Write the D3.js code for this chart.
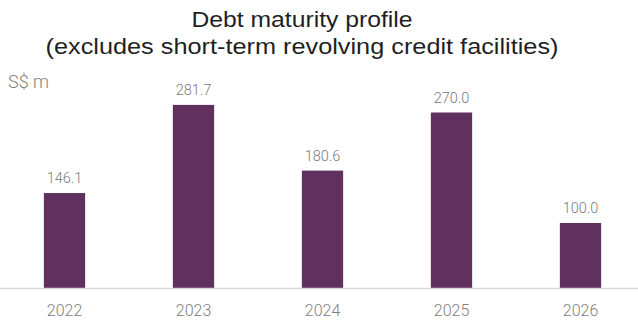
<!DOCTYPE html>
<html>
<head>
<meta charset="utf-8">
<script src="https://cdn.jsdelivr.net/npm/d3@7"></script>
<style>
  body { margin: 0; background: #fff; }
  svg { display: block; font-family: Roboto, "Liberation Sans", sans-serif; }
</style>
</head>
<body>
<div class="chart--container"></div>
<script>
let years = ['2022', '2023', '2024', '2025', '2026'],
    amounts = [146.1, 281.7, 180.6, 270.0, 100.0],
    titleLines = ['Debt maturity profile', '(excludes short-term revolving credit facilities)'],
    unitLabel = 'S$ m';

let W = 638, H = 321,
    baseY = 288,
    svg = d3.select('.chart--container')
            .append('svg')
            .attr('width', W)
            .attr('height', H);

// scales
let scale_x = d3.scaleBand()
                .domain(years)
                .range([0, 645])
                .paddingInner(0.68)
                .paddingOuter(0.34);

let scale_y = d3.scaleLinear()
                .domain([0, 300])
                .range([baseY, 93]);

// title, two lines
svg.selectAll('.title')
    .data(titleLines)
    .enter()
    .append('text')
    .attr('class', 'title')
    .attr('x', 302)
    .attr('y', (d, i) => 27 + i * 27)
    .attr('text-anchor', 'middle')
    .attr('font-family', '"Liberation Sans", Arial, sans-serif')
    .attr('font-size', 22)
    .attr('fill', '#1f1f1f')
    .attr('textLength', (d, i) => i ? 513 : 221)
    .attr('lengthAdjust', 'spacingAndGlyphs')
    .text(d => d);

// unit label
svg.append('text')
    .attr('x', 8)
    .attr('y', 88)
    .attr('font-size', 18)
    .attr('font-weight', 300)
    .attr('fill', '#7f7f7f')
    .text(unitLabel);

// bars
svg.selectAll('rect')
    .data(years)
    .enter()
    .append('rect')
    .attr('x', d => scale_x(d))
    .attr('y', (d, i) => scale_y(amounts[i]))
    .attr('width', scale_x.bandwidth())
    .attr('height', (d, i) => baseY - scale_y(amounts[i]))
    .attr('fill', '#60315e');

// value labels
svg.selectAll('.val')
    .data(years)
    .enter()
    .append('text')
    .attr('class', 'val')
    .attr('x', d => scale_x(d) + scale_x.bandwidth() / 2)
    .attr('y', (d, i) => scale_y(amounts[i]) - 10)
    .attr('text-anchor', 'middle')
    .attr('font-size', 14.5)
    .attr('font-weight', 300)
    .attr('fill', '#7a7a7a')
    .text((d, i) => amounts[i].toFixed(1));

// x-axis
let xAxis = svg.append('g')
    .attr('transform', `translate(0, ${baseY})`)
    .call(d3.axisBottom(scale_x).tickSize(0).tickSizeOuter(0).tickPadding(17));

xAxis.select('.domain')
    .attr('d', `M0,0.5H${W}`)
    .attr('stroke', '#d9d9d9')
    .attr('stroke-width', 1.5);

xAxis.selectAll('text')
    .attr('font-family', 'Roboto, sans-serif')
    .attr('font-size', 16)
    .attr('font-weight', 300)
    .attr('fill', '#808080');
</script>
</body>
</html>
